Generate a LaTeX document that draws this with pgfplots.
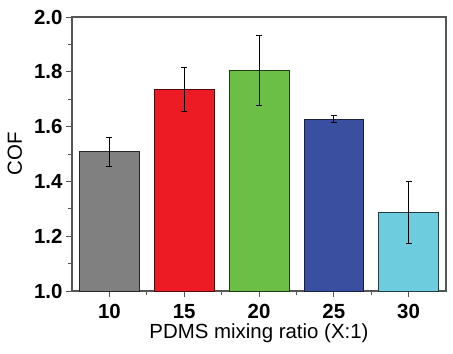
\documentclass[border=0pt]{standalone}
\usepackage{pgfplots}
\pgfplotsset{compat=1.18}
\usepackage{fontspec}
\setmainfont{Liberation Sans}
\definecolor{cgray}{HTML}{808080}
\definecolor{cred}{HTML}{ED1C24}
\definecolor{cgreen}{HTML}{6CBF46}
\definecolor{cblue}{HTML}{3A4FA0}
\definecolor{ccyan}{HTML}{6DCCDD}
\definecolor{axgray}{HTML}{555555}
\begin{document}
\begin{tikzpicture}
\begin{axis}[
  name=ax,
  scale only axis,
  width=374bp, height=274bp,
  xmin=0.5, xmax=5.5,
  ymin=1.0, ymax=2.0,
  xtick={1,2,3,4,5},
  xticklabels={10,15,20,25,30},
  minor xtick={1.5,2.5,3.5,4.5},
  ytick={1.0,1.2,1.4,1.6,1.8,2.0},
  minor y tick num=1,
  tick pos=left,
  tick align=outside,
  major tick length=6bp,
  minor tick length=4bp,
  every tick/.style={axgray, line width=0.9pt},
  axis line style={axgray, line width=1.2pt},
  /pgf/number format/assume math mode=true,
  yticklabel style={/pgf/number format/fixed, /pgf/number format/fixed zerofill, /pgf/number format/precision=1},
  tick label style={font=\bfseries\fontsize{20.5}{24}\selectfont},
  xticklabel style={yshift=-4bp},
  xlabel={PDMS mixing ratio (X:1)},
  ylabel={COF},
  label style={font=\fontsize{20.5}{24}\selectfont},
  xlabel style={at={(0.5,-0.172)}, anchor=base},
  ylabel style={at={(-0.153,0.5)}, anchor=center},
  ybar, bar width=0.8, bar shift=0pt,
  error bars/y dir=both, error bars/y explicit,
  error bars/error mark options={rotate=90, mark size=3bp, black, line width=0.9pt},
  error bars/error bar style={black, line width=0.9pt},
]
\addplot[fill=cgray, draw=black!85, line width=0.7pt] coordinates {(1,1.508) +- (0,0.052)};
\addplot[fill=cred, draw=cred!35!black, line width=0.7pt] coordinates {(2,1.736) +- (0,0.079)};
\addplot[fill=cgreen, draw=cgreen!30!black, line width=0.7pt] coordinates {(3,1.804) +- (0,0.127)};
\addplot[fill=cblue, draw=cblue!40!black, line width=0.7pt] coordinates {(4,1.628) +- (0,0.013)};
\addplot[fill=ccyan, draw=ccyan!30!black, line width=0.7pt] coordinates {(5,1.288) +- (0,0.113)};
\end{axis}
\path ([xshift=-72bp,yshift=17bp]ax.north west) rectangle ([xshift=7bp,yshift=-62bp]ax.south east);
\end{tikzpicture}
\end{document}
